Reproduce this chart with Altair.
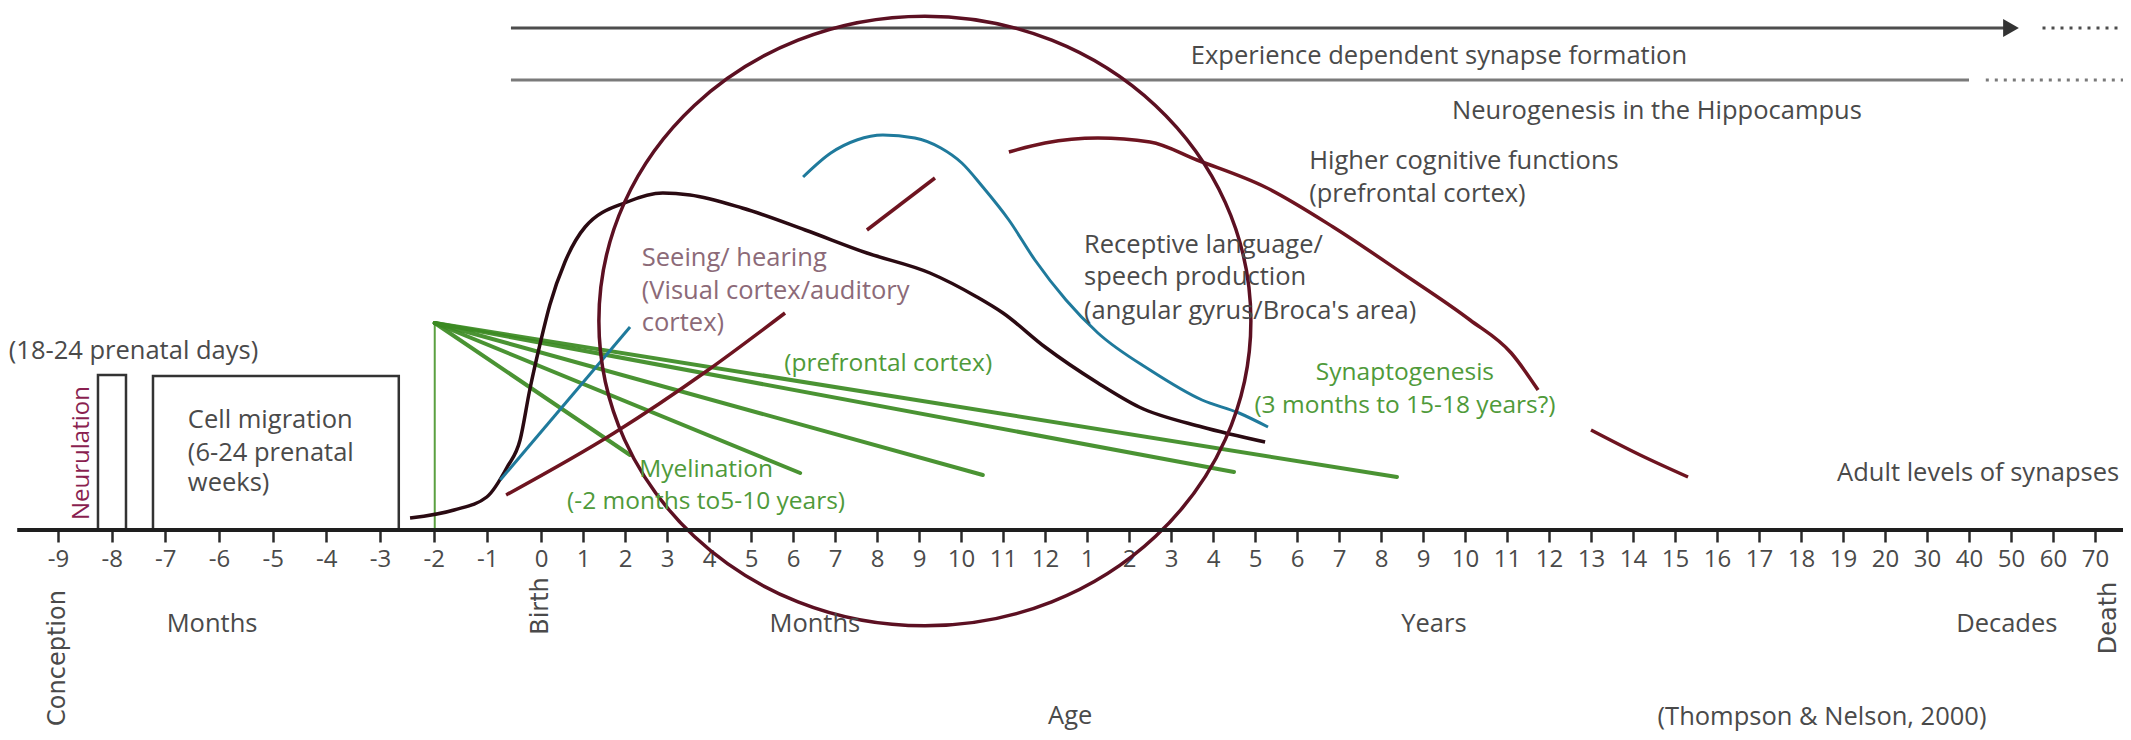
import altair as alt
import pandas as pd

# ---------------- data ----------------
# x is the tick slot on the age axis (0 = "-9" months ... 46 = "70" years); y is relative level above the axis
tick_labels = ["-9", "-8", "-7", "-6", "-5", "-4", "-3", "-2", "-1", "0",
               "1", "2", "3", "4", "5", "6", "7", "8", "9", "10", "11", "12",
               "1", "2", "3", "4", "5", "6", "7", "8", "9", "10", "11", "12", "13", "14",
               "15", "16", "17", "18", "19", "20", "30", "40", "50", "60", "70"]

black_slot = [6.56, 7.38, 7.99, 8.37, 8.61, 8.79, 9.0, 9.21, 9.57, 10.05, 11.05, 11.9, 12.55,
              13.79, 15.29, 16.76, 18.26, 19.38, 20.0, 21.0, 22.26, 23.24, 24.74, 26.24]
black_level = [12, 20, 33, 63, 90, 140, 190, 225, 268, 303, 328, 337, 335,
               322, 300, 277, 257, 233, 217, 183, 147, 123, 103, 88]

blue1_slot = [8.24, 11.12]
blue1_level = [50, 203]
blue2_slot = [15.24, 15.9, 16.52, 17.14, 17.9, 18.52, 19.02, 19.52, 20.14, 20.76, 21.5,
              22.26, 23.5, 24.74, 25.62, 26.31]
blue2_level = [353, 377, 390, 395, 392, 382, 367, 343, 310, 270, 230, 197, 160, 130, 117, 103]

maroon_segments = {
    "a": ([8.35, 10.74, 12.98, 14.81], [35, 97, 160, 217]),
    "b": ([16.76, 18.38], [300, 352]),
    "c": ([20.14, 21.0, 22.26, 23.5, 24.62, 26.24, 27.86, 29.5, 31.12, 32.1, 32.74],
          [378, 387, 392, 388, 370, 343, 303, 257, 210, 177, 140]),
    "d": ([34.0, 35.17, 36.31], [100, 75, 53]),
}

fan_origin = (7.02, 207)
fan_end_slot = [11.12, 15.17, 19.52, 25.5, 29.38]
fan_end_level = [75, 57, 55, 58, 53]

boxes = pd.DataFrame({"name": ["Neurulation", "Cell migration"],
                      "x0": [0.745, 1.77], "x1": [1.267, 6.35],
                      "y0": [0, 0], "y1": [155, 154]})

# experience-dependent synapse formation (arrow) and hippocampal neurogenesis spans
spans = pd.DataFrame({"name": ["experience", "neurogenesis"],
                      "x0": [8.44, 8.44], "x1": [44.0, 43.0], "y": [502, 450],
                      "dx0": [44.75, 43.4], "dx1": [46.9, 46.9]})

circle_center = (18.14, 209)

texts = pd.DataFrame([
    ("Experience dependent synapse formation", 30.38, 474, "gray_c"),
    ("Neurogenesis in the Hippocampus", 35.57, 419, "gray_c"),
    ("Higher cognitive functions", 27.29, 369, "gray_l"),
    ("(prefrontal cortex)", 27.29, 336, "gray_l"),
    ("Receptive language/", 21.93, 285, "gray_l"),
    ("speech production", 21.93, 253, "gray_l"),
    ("(angular gyrus/Broca's area)", 21.93, 219, "gray_l"),
    ("Seeing/ hearing", 11.4, 272, "mauve_l"),
    ("(Visual cortex/auditory", 11.4, 239, "mauve_l"),
    ("cortex)", 11.4, 207, "mauve_l"),
    ("(prefrontal cortex)", 14.79, 166, "green_l"),
    ("Synaptogenesis", 29.57, 157, "green_c"),
    ("(3 months to 15-18 years?)", 29.57, 124, "green_c"),
    ("Myelination", 12.93, 60, "green_c"),
    ("(-2 months to5-10 years)", 12.93, 28, "green_c"),
    ("Adult levels of synapses", 39.86, 57, "gray_l"),
    ("(18-24 prenatal days)", 3.73, 179, "gray_r"),
    ("Cell migration", 2.42, 110, "gray_l"),
    ("(6-24 prenatal", 2.42, 77, "gray_l"),
    ("weeks)", 2.42, 47, "gray_l"),
    ("Months", 2.87, -94, "gray_c"),
    ("Months", 15.52, -94, "gray_c"),
    ("Years", 30.26, -94, "gray_c"),
    ("Decades", 43.9, -94, "gray_c"),
    ("Age", 21.6, -186, "gray_c"),
    ("(Thompson & Nelson, 2000)", 39.5, -187, "gray_c"),
    ("Neurulation", 0.45, 77, "vert_maroon"),
    ("Conception", 0.0, -128, "vert_gray"),
    ("Birth", 9.0, -76, "vert_gray"),
    ("Death", 46.33, -88, "vert_gray"),
], columns=["text", "slot", "level", "style"])

# ---------------- styles ----------------
FONT = "Open Sans"
VFONT = "Open Sans"
GRAY = "#4a4a4a"
BLACKC = "#2a0a12"
BLUE = "#1f7a9c"
MAROON = "#6e1420"
CIRCLE = "#5c1022"
GREEN = "#3b8a22"
GREEN_T = "#4f9a3a"
MAUVE = "#8c6a78"
FS = 25.5
FS_GREEN = 24.5

xscale = alt.Scale(domain=[0, 9, 46], range=[50, 533, 2087], nice=False, zero=False)
yscale = alt.Scale(domain=[0, 522], nice=False, zero=False)

label_expr = "[" + ",".join("'%s'" % t for t in tick_labels) + "][datum.value]"
xaxis = alt.Axis(values=list(range(len(tick_labels))), labelExpr=label_expr, title=None,
                 domain=False, grid=False, tickColor="#2a2a2a", tickWidth=2.5, tickSize=12,
                 labelFontSize=24, labelColor=GRAY, labelFont=FONT, labelPadding=5,
                 labelOverlap=False, labelFlush=False, labelBound=False)


def X(f):
    return alt.X(f, type="quantitative", scale=xscale, axis=xaxis)


def Y(f):
    return alt.Y(f, type="quantitative", scale=yscale, axis=None)


ticks_df = pd.DataFrame({"slot": list(range(len(tick_labels))), "level": [0] * len(tick_labels)})
axis_layer = alt.Chart(ticks_df).mark_point(opacity=0).encode(x=X("slot"), y=Y("level"))

baseline_df = pd.DataFrame({"x0": [-0.76], "x1": [46.9], "y": [0]})
baseline = alt.Chart(baseline_df).mark_rule(color="#1e1e1e", strokeWidth=4).encode(
    x=X("x0"), x2="x1", y=Y("y"))

span_colors = alt.Color("name:N", scale=alt.Scale(domain=["experience", "neurogenesis"],
                                                  range=["#4d4d4d", "#7a7a7a"]), legend=None)
span_solid = alt.Chart(spans).mark_rule(strokeWidth=3).encode(
    x=X("x0"), x2="x1", y=Y("y"), color=span_colors)
span_dot = alt.Chart(spans).mark_rule(strokeWidth=3, strokeDash=[3, 6]).encode(
    x=X("dx0"), x2="dx1", y=Y("y"), color=span_colors)
arrow_head = alt.Chart(spans.iloc[[0]]).mark_point(shape="triangle-right", filled=True, size=330,
                                                   color="#333333", opacity=1).encode(
    x=X("x1"), y=Y("y"))

box_layer = alt.Chart(boxes).mark_rect(fill="white", stroke="#333333", strokeWidth=2.5).encode(
    x=X("x0"), x2="x1", y=Y("y0"), y2="y1")

green_vert = alt.Chart(pd.DataFrame({"x": [fan_origin[0]], "y0": [0], "y1": [fan_origin[1]]})).mark_rule(
    color="#5aa040", strokeWidth=2).encode(x=X("x"), y=Y("y0"), y2="y1")

fan_df = pd.DataFrame({"x0": [fan_origin[0]] * len(fan_end_slot), "y0": [fan_origin[1]] * len(fan_end_slot),
                       "x1": fan_end_slot, "y1": fan_end_level})
fan = alt.Chart(fan_df).mark_rule(color=GREEN, strokeWidth=4, strokeCap="round", opacity=0.92).encode(
    x=X("x0"), y=Y("y0"), x2="x1", y2="y1")

black_df = pd.DataFrame({"slot": black_slot, "level": black_level})
black = alt.Chart(black_df).mark_line(color=BLACKC, strokeWidth=3.5, interpolate="monotone").encode(
    x=X("slot"), y=Y("level"))

blue_df = pd.concat([pd.DataFrame({"slot": blue1_slot, "level": blue1_level, "seg": "1"}),
                     pd.DataFrame({"slot": blue2_slot, "level": blue2_level, "seg": "2"})])
blue = alt.Chart(blue_df).mark_line(color=BLUE, strokeWidth=3, interpolate="monotone").encode(
    x=X("slot"), y=Y("level"), detail="seg:N")

mar_rows = []
for k, (xs, ys) in maroon_segments.items():
    for a, b in zip(xs, ys):
        mar_rows.append({"slot": a, "level": b, "seg": k})
maroon = alt.Chart(pd.DataFrame(mar_rows)).mark_line(color=MAROON, strokeWidth=3.5,
                                                      interpolate="monotone").encode(
    x=X("slot"), y=Y("level"), detail="seg:N")

# slightly flattened ring (wider than tall), drawn as a custom symbol
ellipse_path = "M-1,0 A1,0.935 0 1,1 1,0 A1,0.935 0 1,1 -1,0 Z"
circle = alt.Chart(pd.DataFrame({"slot": [circle_center[0]], "level": [circle_center[1]]})).mark_point(
    shape=ellipse_path, size=652 ** 2, filled=False, stroke=CIRCLE, strokeWidth=3.5, opacity=1).encode(
    x=X("slot"), y=Y("level"))


def text_layer(style, color, align, font=FONT, angle=None, size=FS):
    kw = dict(align=align, baseline="middle", font=font, fontSize=size, color=color)
    if angle is not None:
        kw["angle"] = angle
    return alt.Chart(texts).transform_filter(alt.datum.style == style).mark_text(**kw).encode(
        x=X("slot"), y=Y("level"), text="text:N")


text_layers = [
    text_layer("gray_c", GRAY, "center"),
    text_layer("gray_l", GRAY, "left"),
    text_layer("gray_r", GRAY, "right"),
    text_layer("mauve_l", MAUVE, "left"),
    text_layer("green_l", GREEN_T, "left", size=FS_GREEN),
    text_layer("green_c", GREEN_T, "center", size=FS_GREEN),
    text_layer("vert_gray", GRAY, "center", font="DejaVu Sans", angle=270, size=24),
    text_layer("vert_maroon", "#8a1f50", "center", font=VFONT, angle=270, size=24),
]

chart = alt.layer(
    axis_layer, span_solid, span_dot, arrow_head, box_layer, green_vert, fan,
    black, blue, maroon, circle, baseline, *text_layers
).properties(
    width=2115, height=522,
    autosize=alt.AutoSizeParams(type="none"),
    padding={"left": 0, "right": 0, "top": 0, "bottom": 202},
).configure_view(stroke=None)

chart.save("out.html", embed_options={"renderer": "svg", "actions": False})
